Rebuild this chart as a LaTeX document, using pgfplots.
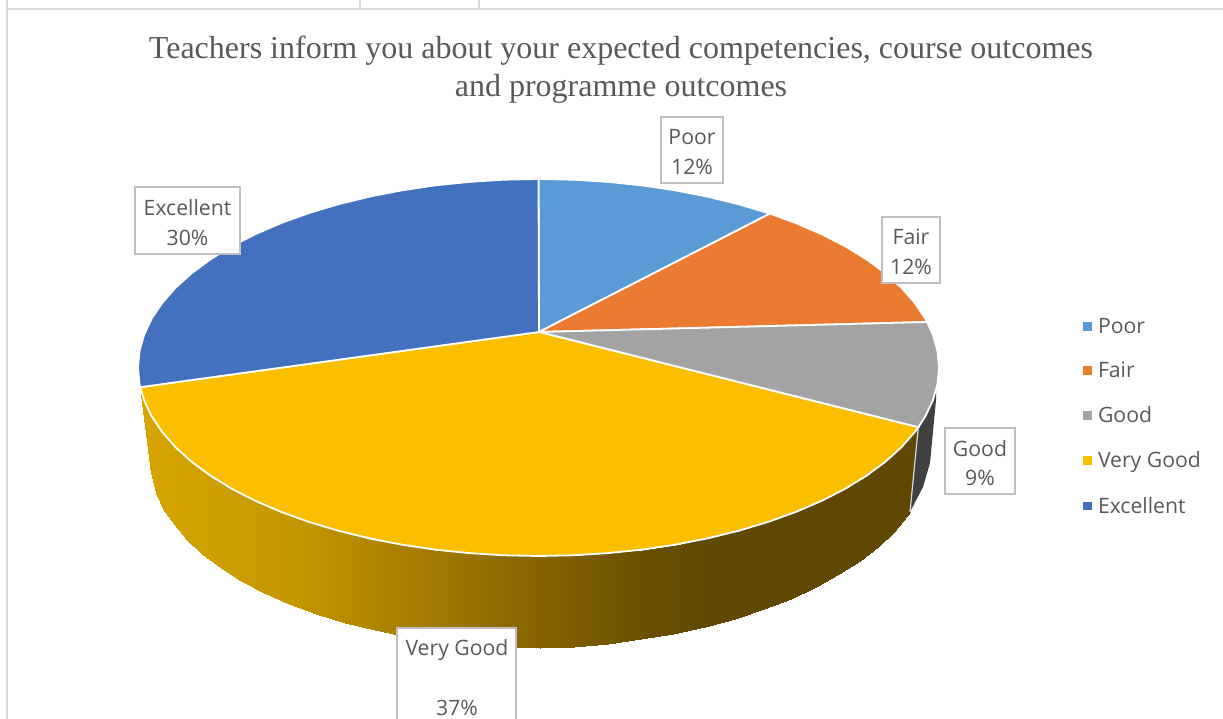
\documentclass[border=0pt]{standalone}
\usepackage{pgfplots}
\pgfplotsset{compat=1.18}
\usepackage{fontspec}
\setmainfont{Open Sans}
\newfontfamily\titlefont{Liberation Serif}
\definecolor{cPoor}{HTML}{5A9AD6}
\definecolor{cFair}{HTML}{EB7B30}
\definecolor{cGood}{HTML}{A3A3A3}
\definecolor{cVery}{HTML}{FBBF00}
\definecolor{cExc}{HTML}{4371BF}
\definecolor{txt}{HTML}{595959}
\definecolor{boxline}{HTML}{BFBFBF}
\definecolor{frameline}{HTML}{D9D9D9}
\newcommand{\lab}[5]{%
  \node[draw=boxline,line width=2pt,fill=white,inner sep=0pt,minimum width=#3pt,minimum height=#4pt] at (axis cs:#1,#2) {};
  \node[text=txt,align=center,inner sep=0pt,font=\fontsize{21.2}{29.5}\selectfont,yshift=-2pt] at (axis cs:#1,#2) {#5};}
\begin{document}
\begin{tikzpicture}
\begin{axis}[
  hide axis, scale only axis, width=1223pt, height=719pt,
  xmin=0, xmax=1223, ymin=0, ymax=719, y dir=reverse, enlargelimits=false,
  clip=false,
  colormap={sidegold}{rgb255(0pt)=(215,165,0); rgb255(160pt)=(196,150,0); rgb255(260pt)=(170,128,0);
    rgb255(360pt)=(143,108,0); rgb255(510pt)=(105,78,0); rgb255(580pt)=(97,72,0); rgb255(780pt)=(97,72,0)},
  point meta min=140, point meta max=920,
  legend cell align=left,
  legend style={at={(axis cs:1083,316)},anchor=north west,draw=none,fill=none,
    font=\fontsize{21.2}{24}\selectfont,text=txt,row sep=23.5pt,inner sep=0pt,outer sep=0pt},
  legend image code/.code={\fill[#1,draw=none] (0pt,-4.2pt) rectangle (8.5pt,4.2pt);\path[draw=none,fill=none] (0pt,0pt) -- (13pt,0pt);},
]
% table frame
\addplot[frameline,line width=2.5pt,forget plot] coordinates {(7,719)(7,9)(1223,9)};
\addplot[frameline,line width=1.5pt,forget plot] coordinates {(7,0)(7,9)};
\addplot[frameline,line width=1.5pt,forget plot] coordinates {(360,0)(360,9)};
\addplot[frameline,line width=1.5pt,forget plot] coordinates {(479,0)(479,9)};
% side of Very Good
\addplot[surf,shader=interp,mesh/rows=2,point meta=x,forget plot] table {
x y
918.3 427.3
914.8 432.0
901.5 447.2
885.3 461.8
866.6 475.6
845.3 488.7
821.7 500.8
795.9 511.9
768.2 521.9
738.8 530.7
707.8 538.3
675.5 544.6
642.2 549.6
608.0 553.1
573.4 555.3
538.5 556.0
503.6 555.3
469.0 553.1
434.8 549.6
401.5 544.6
369.2 538.3
338.2 530.7
308.8 521.9
281.1 511.9
255.3 500.8
231.7 488.7
210.4 475.6
191.7 461.8
175.5 447.2
162.2 432.0
151.6 416.3
144.1 400.2
140.2 387.2

909.9 511.6
906.5 516.2
893.5 531.7
877.8 546.6
859.5 560.8
838.8 574.2
815.8 586.8
790.7 598.5
763.7 609.1
735.0 618.5
704.8 626.8
673.4 633.8
640.9 639.4
607.7 643.6
574.0 646.6
540.0 648.0
506.0 647.3
472.3 645.1
439.1 641.6
406.6 636.7
375.2 630.4
345.0 622.8
316.3 614.0
289.3 604.0
264.2 592.9
241.2 580.8
220.5 567.8
202.2 554.0
186.5 539.5
173.5 524.3
163.3 508.7
155.9 492.7
150.5 473.0
};
% side of Good
\addplot[fill=black!75,draw=none,forget plot] coordinates {
(936,390.5)(932.9,400.2)(925.4,416.3)(918.3,427.3)(910,512)(923,487)(930,463)(936,400)(936,390.5)};
\addplot[white!85!black,line width=1.2pt,forget plot] coordinates {(918.3,427.3)(910,512)};
% top faces
\addplot[fill=cPoor,draw=white,line width=1.8pt] coordinates {
(539,332)(538.5,179)(573.4,179.7)(608,181.9)(642.2,185.4)(675.5,190.4)(707.8,196.7)(738.8,204.3)(768.2,213.1)(770,213.6)(539,332)};
\addlegendentry{Poor}
\addplot[fill=cFair,draw=white,line width=1.8pt] coordinates {
(539,332)(770,213.6)(795.9,223.1)(821.7,234.2)(845.3,246.3)(866.6,259.4)(885.3,273.2)(901.5,287.8)(914.8,303)(925.4,318.7)(927,322)(539,332)};
\addlegendentry{Fair}
\addplot[fill=cGood,draw=white,line width=1.8pt] coordinates {
(539,332)(927,322)(932.9,334.8)(937.5,351.1)(939,367.5)(937.5,383.9)(932.9,400.2)(925.4,416.3)(918.3,427.3)(539,332)};
\addlegendentry{Good}
\addplot[fill=cVery,draw=white,line width=1.8pt] coordinates {
(539,332)(918.3,427.3)(914.8,432)(901.5,447.2)(885.3,461.8)(866.6,475.6)(845.3,488.7)(821.7,500.8)(795.9,511.9)(768.2,521.9)(738.8,530.7)(707.8,538.3)(675.5,544.6)(642.2,549.6)(608,553.1)(573.4,555.3)(538.5,556)(503.6,555.3)(469,553.1)(434.8,549.6)(401.5,544.6)(369.2,538.3)(338.2,530.7)(308.8,521.9)(281.1,511.9)(255.3,500.8)(231.7,488.7)(210.4,475.6)(191.7,461.8)(175.5,447.2)(162.2,432)(151.6,416.3)(144.1,400.2)(140.2,387.2)(539,332)};
\addlegendentry{Very Good}
\addplot[fill=cExc,draw=white,line width=1.8pt] coordinates {
(539,332)(140.2,387.2)(139.5,383.9)(138,367.5)(139.5,351.1)(144.1,334.8)(151.6,318.7)(162.2,303)(175.5,287.8)(191.7,273.2)(210.4,259.4)(231.7,246.3)(255.3,234.2)(281.1,223.1)(308.8,213.1)(338.2,204.3)(369.2,196.7)(401.5,190.4)(434.8,185.4)(469,181.9)(503.6,179.7)(538.5,179)(539,332)};
\addlegendentry{Excellent}
% title
\node[text=txt,align=center,font=\titlefont\fontsize{32}{38}\selectfont] at (axis cs:621,70)
  {Teachers inform you about your expected competencies, course outcomes\\and programme outcomes};
% data labels
\lab{692}{150}{62}{66}{Poor\\12\%}
\lab{911}{250}{58}{66}{Fair\\12\%}
\lab{980}{461}{70}{66}{Good\\9\%}
\lab{187.5}{220.5}{105}{67}{Excellent\\30\%}
\fill[white] (axis cs:397,628) rectangle (axis cs:516,719);
\draw[boxline,line width=2pt] (axis cs:397,719) -- (axis cs:397,628) -- (axis cs:516,628) -- (axis cs:516,719);
\node[text=txt,font=\fontsize{21.2}{24}\selectfont] at (axis cs:457,650) {Very Good};
\node[text=txt,font=\fontsize{21.2}{24}\selectfont] at (axis cs:457,708) {37\%};
\end{axis}
\pgfresetboundingbox
\path (current axis.south west) rectangle (current axis.north east);
\end{tikzpicture}
\end{document}
